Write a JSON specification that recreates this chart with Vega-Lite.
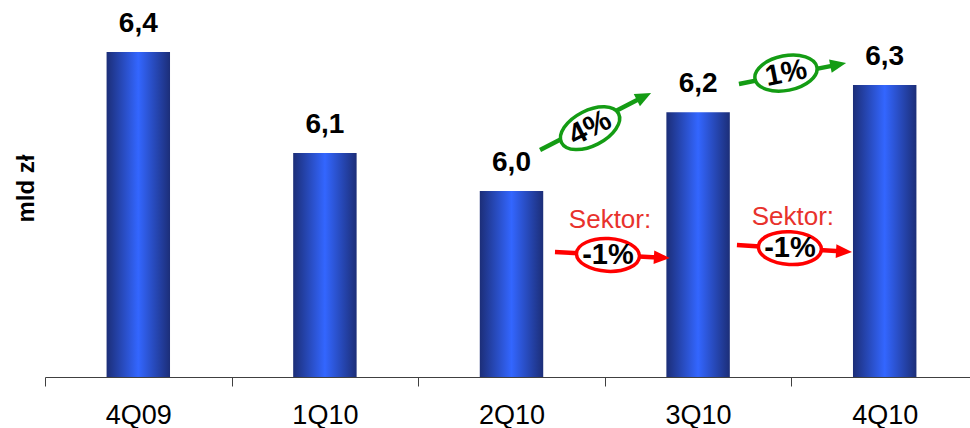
{
  "$schema": "https://vega.github.io/schema/vega-lite/v6.json",
  "width": 933,
  "height": 377,
  "autosize": {"type": "none"},
  "padding": {"left": 45, "top": 0, "right": 0, "bottom": 51},
  "background": "white",
  "title": {
    "text": "mld zł", "orient": "left", "anchor": "middle", "offset": 6,
    "font": "Liberation Sans", "fontSize": 24, "fontWeight": "bold", "color": "black"
  },
  "config": {
    "view": {"stroke": null},
    "font": "Liberation Sans",
    "axis": {"labelFont": "Liberation Sans", "titleFont": "Liberation Sans"},
    "text": {"font": "Liberation Sans"}
  },
  "datasets": {
    "quarters": [
      {"quarter": "4Q09", "value": 6.406, "label": "6,4"},
      {"quarter": "1Q10", "value": 6.109, "label": "6,1"},
      {"quarter": "2Q10", "value": 5.997, "label": "6,0"},
      {"quarter": "3Q10", "value": 6.229, "label": "6,2"},
      {"quarter": "4Q10", "value": 6.309, "label": "6,3"}
    ],
    "notes": [
      {"id": "g1", "kind": "growth", "text": "4%", "x0": 2.653, "y0": 6.118, "x1": 3.21, "y1": 6.275, "cx": 2.921, "cy": 6.182},
      {"id": "g2", "kind": "growth", "text": "1%", "x0": 3.719, "y0": 6.312, "x1": 4.251, "y1": 6.369, "cx": 3.971, "cy": 6.344},
      {"id": "s1", "kind": "sector", "text": "-1%", "x0": 2.733, "y0": 5.818, "x1": 3.306, "y1": 5.801, "cx": 3.017, "cy": 5.809, "tx": 3.028, "ty": 5.912, "caption": "Sektor:"},
      {"id": "s2", "kind": "sector", "text": "-1%", "x0": 3.708, "y0": 5.838, "x1": 4.282, "y1": 5.819, "cx": 3.992, "cy": 5.829, "tx": 4.008, "ty": 5.921, "caption": "Sektor:"}
    ]
  },
  "layer": [
    {
      "data": {"name": "quarters"},
      "encoding": {
        "x": {
          "field": "quarter", "type": "nominal", "sort": null,
          "scale": {"paddingInner": 0, "paddingOuter": 0},
          "axis": {
            "title": null, "labelAngle": 0, "tickBand": "extent", "orient": "bottom",
            "domainColor": "#404040", "tickColor": "#404040", "tickSize": 9,
            "labelFontSize": 27, "labelColor": "black", "labelPadding": 16, "grid": false
          }
        },
        "y": {
          "field": "value", "type": "quantitative",
          "scale": {"domain": [5.45, 6.559], "nice": false, "zero": false},
          "axis": null
        }
      },
      "layer": [
        {
          "mark": {
            "type": "bar",
            "width": {"band": 0.34},
            "color": {
              "gradient": "linear", "x1": 0, "y1": 0, "x2": 1, "y2": 0,
              "stops": [
                {"offset": 0, "color": "#1c2e78"},
                {"offset": 0.5, "color": "#3366ff"},
                {"offset": 1, "color": "#1c2e78"}
              ]
            }
          },
          "encoding": {"y2": {"datum": 5.45}}
        },
        {
          "mark": {"type": "text", "dy": -20, "baseline": "alphabetic", "fontSize": 28, "fontWeight": "bold", "color": "black"},
          "encoding": {"text": {"field": "label"}}
        }
      ]
    },
    {
      "data": {"name": "notes"},
      "layer": [
        {
          "transform": [{"filter": "datum.id === 'g1'"}],
          "layer": [
            {
              "mark": {"type": "rule", "strokeWidth": 4.5, "color": "#149c14"},
              "encoding": {
                "x": {"field": "x0", "type": "quantitative", "scale": {"domain": [0, 5], "nice": false, "zero": false}, "axis": null},
                "x2": {"field": "x1"},
                "y": {"field": "y0", "type": "quantitative", "scale": {"domain": [5.45, 6.559], "nice": false, "zero": false}, "axis": null},
                "y2": {"field": "y1"}
              }
            },
            {
              "mark": {"type": "point", "shape": "M-1,-0.85L1,0L-1,0.85Z", "filled": true, "size": 256, "angle": -27, "color": "#149c14", "opacity": 1},
              "encoding": {
                "x": {"field": "x1", "type": "quantitative", "scale": {"domain": [0, 5], "nice": false, "zero": false}, "axis": null},
                "y": {"field": "y1", "type": "quantitative", "scale": {"domain": [5.45, 6.559], "nice": false, "zero": false}, "axis": null}
              }
            },
            {
              "mark": {"type": "point", "shape": "M-1,0C-1,-0.3038,-0.5523,-0.55,0,-0.55C0.5523,-0.55,1,-0.3038,1,0C1,0.3038,0.5523,0.55,0,0.55C-0.5523,0.55,-1,0.3038,-1,0Z", "filled": true, "fill": "white", "stroke": "#149c14", "strokeWidth": 3.5, "size": 4096, "angle": -27, "opacity": 1},
              "encoding": {
                "x": {"field": "cx", "type": "quantitative", "scale": {"domain": [0, 5], "nice": false, "zero": false}, "axis": null},
                "y": {"field": "cy", "type": "quantitative", "scale": {"domain": [5.45, 6.559], "nice": false, "zero": false}, "axis": null}
              }
            },
            {
              "mark": {"type": "text", "angle": -27, "fontSize": 30, "fontWeight": "bold", "color": "black", "align": "center", "baseline": "middle"},
              "encoding": {
                "x": {"field": "cx", "type": "quantitative", "scale": {"domain": [0, 5], "nice": false, "zero": false}, "axis": null},
                "y": {"field": "cy", "type": "quantitative", "scale": {"domain": [5.45, 6.559], "nice": false, "zero": false}, "axis": null},
                "text": {"field": "text"}
              }
            }
          ]
        },
        {
          "transform": [{"filter": "datum.id === 'g2'"}],
          "layer": [
            {
              "mark": {"type": "rule", "strokeWidth": 4.5, "color": "#149c14"},
              "encoding": {
                "x": {"field": "x0", "type": "quantitative", "scale": {"domain": [0, 5], "nice": false, "zero": false}, "axis": null},
                "x2": {"field": "x1"},
                "y": {"field": "y0", "type": "quantitative", "scale": {"domain": [5.45, 6.559], "nice": false, "zero": false}, "axis": null},
                "y2": {"field": "y1"}
              }
            },
            {
              "mark": {"type": "point", "shape": "M-1,-0.85L1,0L-1,0.85Z", "filled": true, "size": 256, "angle": -11, "color": "#149c14", "opacity": 1},
              "encoding": {
                "x": {"field": "x1", "type": "quantitative", "scale": {"domain": [0, 5], "nice": false, "zero": false}, "axis": null},
                "y": {"field": "y1", "type": "quantitative", "scale": {"domain": [5.45, 6.559], "nice": false, "zero": false}, "axis": null}
              }
            },
            {
              "mark": {"type": "point", "shape": "M-1,0C-1,-0.3038,-0.5523,-0.55,0,-0.55C0.5523,-0.55,1,-0.3038,1,0C1,0.3038,0.5523,0.55,0,0.55C-0.5523,0.55,-1,0.3038,-1,0Z", "filled": true, "fill": "white", "stroke": "#149c14", "strokeWidth": 3.5, "size": 3969, "angle": -11, "opacity": 1},
              "encoding": {
                "x": {"field": "cx", "type": "quantitative", "scale": {"domain": [0, 5], "nice": false, "zero": false}, "axis": null},
                "y": {"field": "cy", "type": "quantitative", "scale": {"domain": [5.45, 6.559], "nice": false, "zero": false}, "axis": null}
              }
            },
            {
              "mark": {"type": "text", "angle": -11, "fontSize": 29, "fontWeight": "bold", "color": "black", "align": "center", "baseline": "middle"},
              "encoding": {
                "x": {"field": "cx", "type": "quantitative", "scale": {"domain": [0, 5], "nice": false, "zero": false}, "axis": null},
                "y": {"field": "cy", "type": "quantitative", "scale": {"domain": [5.45, 6.559], "nice": false, "zero": false}, "axis": null},
                "text": {"field": "text"}
              }
            }
          ]
        },
        {
          "transform": [{"filter": "datum.kind === 'sector'"}],
          "layer": [
            {
              "mark": {"type": "rule", "strokeWidth": 4.5, "color": "#ff0000"},
              "encoding": {
                "x": {"field": "x0", "type": "quantitative", "scale": {"domain": [0, 5], "nice": false, "zero": false}, "axis": null},
                "x2": {"field": "x1"},
                "y": {"field": "y0", "type": "quantitative", "scale": {"domain": [5.45, 6.559], "nice": false, "zero": false}, "axis": null},
                "y2": {"field": "y1"}
              }
            },
            {
              "mark": {"type": "point", "shape": "M-1,-0.85L1,0L-1,0.85Z", "filled": true, "size": 256, "angle": 3, "color": "#ff0000", "opacity": 1},
              "encoding": {
                "x": {"field": "x1", "type": "quantitative", "scale": {"domain": [0, 5], "nice": false, "zero": false}, "axis": null},
                "y": {"field": "y1", "type": "quantitative", "scale": {"domain": [5.45, 6.559], "nice": false, "zero": false}, "axis": null}
              }
            },
            {
              "mark": {"type": "point", "shape": "M-1,0C-1,-0.2872,-0.5523,-0.52,0,-0.52C0.5523,-0.52,1,-0.2872,1,0C1,0.2872,0.5523,0.52,0,0.52C-0.5523,0.52,-1,0.2872,-1,0Z", "filled": true, "fill": "white", "stroke": "#ff0000", "strokeWidth": 3.5, "size": 3969, "angle": 3, "opacity": 1},
              "encoding": {
                "x": {"field": "cx", "type": "quantitative", "scale": {"domain": [0, 5], "nice": false, "zero": false}, "axis": null},
                "y": {"field": "cy", "type": "quantitative", "scale": {"domain": [5.45, 6.559], "nice": false, "zero": false}, "axis": null}
              }
            },
            {
              "mark": {"type": "text", "fontSize": 29, "fontWeight": "bold", "color": "black", "align": "center", "baseline": "middle"},
              "encoding": {
                "x": {"field": "cx", "type": "quantitative", "scale": {"domain": [0, 5], "nice": false, "zero": false}, "axis": null},
                "y": {"field": "cy", "type": "quantitative", "scale": {"domain": [5.45, 6.559], "nice": false, "zero": false}, "axis": null},
                "text": {"field": "text"}
              }
            },
            {
              "mark": {"type": "text", "fontSize": 26, "color": "#e8322c", "align": "center", "baseline": "middle"},
              "encoding": {
                "x": {"field": "tx", "type": "quantitative", "scale": {"domain": [0, 5], "nice": false, "zero": false}, "axis": null},
                "y": {"field": "ty", "type": "quantitative", "scale": {"domain": [5.45, 6.559], "nice": false, "zero": false}, "axis": null},
                "text": {"field": "caption"}
              }
            }
          ]
        }
      ]
    }
  ],
  "resolve": {"scale": {"x": "independent"}}
}
